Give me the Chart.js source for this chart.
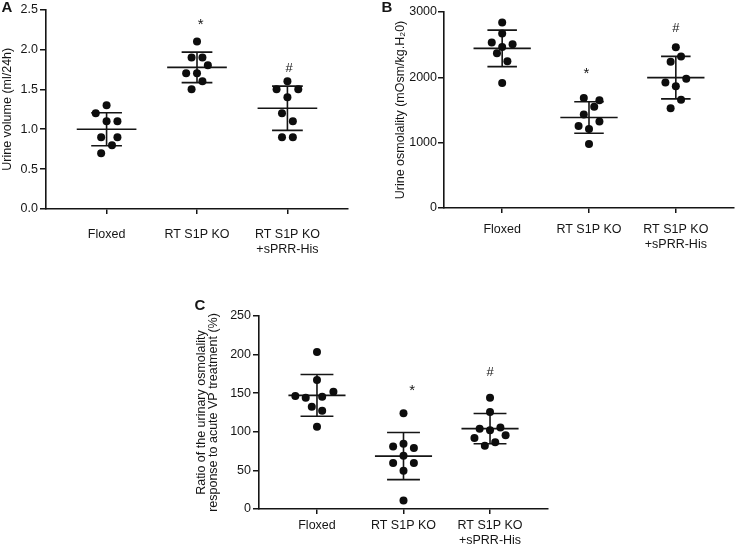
<!DOCTYPE html>
<html>
<head>
<meta charset="utf-8">
<script src="https://cdn.jsdelivr.net/npm/chart.js@4.4.1/dist/chart.umd.min.js"></script>
<style>
  html, body { margin: 0; padding: 0; background: #fff; }
  body { width: 738px; height: 546px; position: relative; overflow: hidden; }
  canvas { position: absolute; }
  #chartA { left: 0; top: 0; }
  #chartB { left: 370px; top: 0; }
  #chartC { left: 170px; top: 280px; }
</style>
</head>
<body>
<canvas id="chartA" width="370" height="265"></canvas>
<canvas id="chartB" width="368" height="265"></canvas>
<canvas id="chartC" width="400" height="266"></canvas>
<script>
const groups = ["Floxed", "RT S1P KO", ["RT S1P KO", "+sPRR-His"]];

// A - urine volume (ml/24h)
const volFloxed = [1.30, 1.20, 1.10, 1.10, 0.90, 0.90, 0.80, 0.70];
const volKO = [2.10, 1.90, 1.90, 1.80, 1.70, 1.70, 1.60, 1.50];
const volKOsPRR = [1.60, 1.50, 1.50, 1.40, 1.20, 1.10, 0.90, 0.90];
// horizontal scatter of each dot, in category units
const volSpread = [
  [0, -0.12, 0, 0.12, -0.06, 0.12, 0.06, -0.06],
  [0, -0.06, 0.06, 0.12, -0.12, 0, 0.06, -0.06],
  [0, -0.12, 0.12, 0, -0.06, 0.06, -0.06, 0.06]
];
const volTicks = [0, 0.5, 1.0, 1.5, 2.0, 2.5];
const volSig = ["", "*", "#"];
const volSigX = [null, 2.04, 3.02];
const volSigY = [null, 2.34, 1.78];

// B - urine osmolality (mOsm/kg.H2O)
const osmFloxed = [2840, 2670, 2535, 2505, 2465, 2370, 2245, 1915];
const osmKO = [1685, 1650, 1550, 1430, 1325, 1255, 1210, 980];
const osmKOsPRR = [2460, 2320, 2240, 1920, 1980, 1865, 1655, 1525];
const osmSpread = [
  [0, 0, -0.12, 0.12, 0, -0.06, 0.06, 0],
  [-0.06, 0.12, 0.06, -0.06, 0.12, -0.12, 0, 0],
  [0, 0.06, -0.06, -0.12, 0.12, 0, 0.06, -0.06]
];
const osmTicks = [0, 1000, 2000, 3000];
const osmSig = ["", "*", "#"];
const osmSigX = [null, 1.97, 3.0];
const osmSigY = [null, 2086, 2766];

// C - ratio of urinary osmolality response to acute VP (%)
const ratioFloxed = [203.5, 167, 146.3, 144.1, 145.4, 151.9, 132.5, 127.3, 106.7];
const ratioKO = [124, 81, 84.5, 79, 69, 59.5, 59.5, 49.5, 11];
const ratioKOsPRR = [144, 125.5, 104, 105.5, 102, 92, 95.5, 82, 86.5];
const ratioSpread = [
  [0, 0, -0.25, -0.13, 0.06, 0.19, -0.06, 0.06, 0],
  [0, -0.12, 0, 0.12, 0, -0.12, 0.12, 0, 0],
  [0, 0, -0.12, 0.12, 0, -0.18, 0.18, -0.06, 0.06]
];
const ratioTicks = [0, 50, 100, 150, 200, 250];
const ratioSig = ["", "*", "#"];
const ratioSigX = [null, 2.1, 3.0];
const ratioSigY = [null, 156, 178.6];

const FONT = "'Liberation Sans', Arial, sans-serif";
const INK = "#151515";

function mean(arr) {
  return arr.reduce((a, b) => a + b, 0) / arr.length;
}
function sd(arr) {
  const m = mean(arr);
  return Math.sqrt(arr.reduce((a, b) => a + (b - m) * (b - m), 0) / (arr.length - 1));
}

// mean line, SD caps and the SD stem, split by gaps
function errorBar(center, values, capW) {
  const m = mean(values), s = sd(values);
  return [
    { x: center - 0.33, y: m }, { x: center + 0.33, y: m }, { x: center, y: null },
    { x: center - capW, y: m + s }, { x: center + capW, y: m + s }, { x: center, y: null },
    { x: center - capW, y: m - s }, { x: center + capW, y: m - s }, { x: center, y: null },
    { x: center, y: m - s }, { x: center, y: m + s }
  ];
}

const panelText = {
  id: "panelText",
  afterDraw(chart, args, opts) {
    const ctx = chart.ctx;
    const xs = chart.scales.x, ys = chart.scales.y;
    ctx.save();
    ctx.fillStyle = INK;
    ctx.textBaseline = "alphabetic";
    ctx.textAlign = "left";
    ctx.font = "bold 15px " + FONT;
    ctx.fillText(opts.letter, opts.letterX, opts.letterY);
    ctx.textAlign = "center";
    opts.sig.forEach((mark, i) => {
      if (!mark) return;
      const size = mark === "*" ? 15 : 13;
      const lift = mark === "*" ? 0.45 : 0.36;
      ctx.font = size + "px " + FONT;
      ctx.fillText(mark, xs.getPixelForValue(opts.sigX[i]),
        ys.getPixelForValue(opts.sigY[i]) + lift * size);
    });
    ctx.restore();
  }
};

function makePanel(id, s) {
  const datasets = [];
  s.values.forEach((vals, g) => {
    datasets.push({
      data: vals.map((v, k) => ({ x: g + 1 + s.spread[g][k], y: v })),
      pointRadius: 4,
      pointBackgroundColor: "#0d0d0d",
      pointBorderWidth: 0,
      showLine: false
    });
  });
  s.values.forEach((vals, g) => {
    datasets.push({
      data: errorBar(g + 1, vals, s.capW),
      showLine: true,
      spanGaps: false,
      borderColor: INK,
      borderWidth: 1.6,
      pointRadius: 0
    });
  });

  new Chart(document.getElementById(id), {
    type: "scatter",
    data: { datasets: datasets },
    options: {
      responsive: false,
      animation: false,
      events: [],
      layout: { padding: s.padding },
      plugins: {
        legend: { display: false },
        tooltip: { enabled: false },
        panelText: { letter: s.letter, letterX: s.letterX, letterY: s.letterY,
          sig: s.sig, sigX: s.sigX, sigY: s.sigY }
      },
      scales: {
        x: {
          type: "linear",
          min: 0.33,
          max: 3.67,
          afterBuildTicks: (ax) => { ax.ticks = [1, 2, 3].map(v => ({ value: v })); },
          afterFit: (ax) => { ax.height = s.xHeight; },
          grid: { drawOnChartArea: false, drawTicks: true, tickLength: 5, color: INK, lineWidth: 1.5 },
          border: { display: true, color: INK, width: 1.6 },
          ticks: {
            autoSkip: false,
            maxRotation: 0,
            padding: s.xPad,
            color: INK,
            font: { family: FONT, size: 12.5, lineHeight: 1.22 },
            callback: (v) => groups[v - 1]
          }
        },
        y: {
          min: s.ticks[0],
          max: s.ticks[s.ticks.length - 1],
          afterBuildTicks: (ax) => { ax.ticks = s.ticks.map(v => ({ value: v })); },
          afterFit: (ax) => { ax.width = s.yWidth; },
          grid: { drawOnChartArea: false, drawTicks: true, tickLength: 6, color: INK, lineWidth: 1.5 },
          border: { display: true, color: INK, width: 1.6 },
          ticks: {
            padding: s.yPad,
            color: INK,
            font: { family: FONT, size: 12.5 },
            callback: s.fmt
          },
          title: {
            display: true,
            text: s.title,
            color: INK,
            padding: { top: s.titlePad, bottom: 0 },
            font: { family: FONT, size: 12.5, lineHeight: s.titleLH }
          }
        }
      }
    },
    plugins: [panelText]
  });
}

makePanel("chartA", {
  values: [volFloxed, volKO, volKOsPRR], spread: volSpread, ticks: volTicks,
  fmt: (v) => v.toFixed(1), capW: 0.17,
  title: "Urine volume (ml/24h)", titlePad: 0, titleLH: 1.15,
  padding: { top: 9, right: 22, bottom: 0, left: 0 }, yWidth: 46, xHeight: 56,
  xPad: 13, yPad: 2,
  letter: "A", letterX: 1.5, letterY: 12,
  sig: volSig, sigX: volSigX, sigY: volSigY
});

makePanel("chartB", {
  values: [osmFloxed, osmKO, osmKOsPRR], spread: osmSpread, ticks: osmTicks,
  fmt: (v) => String(v), capW: 0.17,
  title: "Urine osmolality (mOsm/kg.H\u20820)", titlePad: 23, titleLH: 1.15,
  padding: { top: 12, right: 1, bottom: 0, left: 0 }, yWidth: 74, xHeight: 57,
  xPad: 8.5, yPad: 1,
  letter: "B", letterX: 11.5, letterY: 12,
  sig: osmSig, sigX: osmSigX, sigY: osmSigY
});

makePanel("chartC", {
  values: [ratioFloxed, ratioKO, ratioKOsPRR], spread: ratioSpread, ticks: ratioTicks,
  fmt: (v) => String(v), capW: 0.19,
  title: ["Ratio of the urinary osmolality", "response to acute VP treatment (%)"],
  titlePad: 26, titleLH: 0.92,
  padding: { top: 36, right: 22, bottom: 0, left: 0 }, yWidth: 89, xHeight: 37,
  xPad: 3.5, yPad: 2,
  letter: "C", letterX: 24.5, letterY: 29.5,
  sig: ratioSig, sigX: ratioSigX, sigY: ratioSigY
});
</script>
</body>
</html>
